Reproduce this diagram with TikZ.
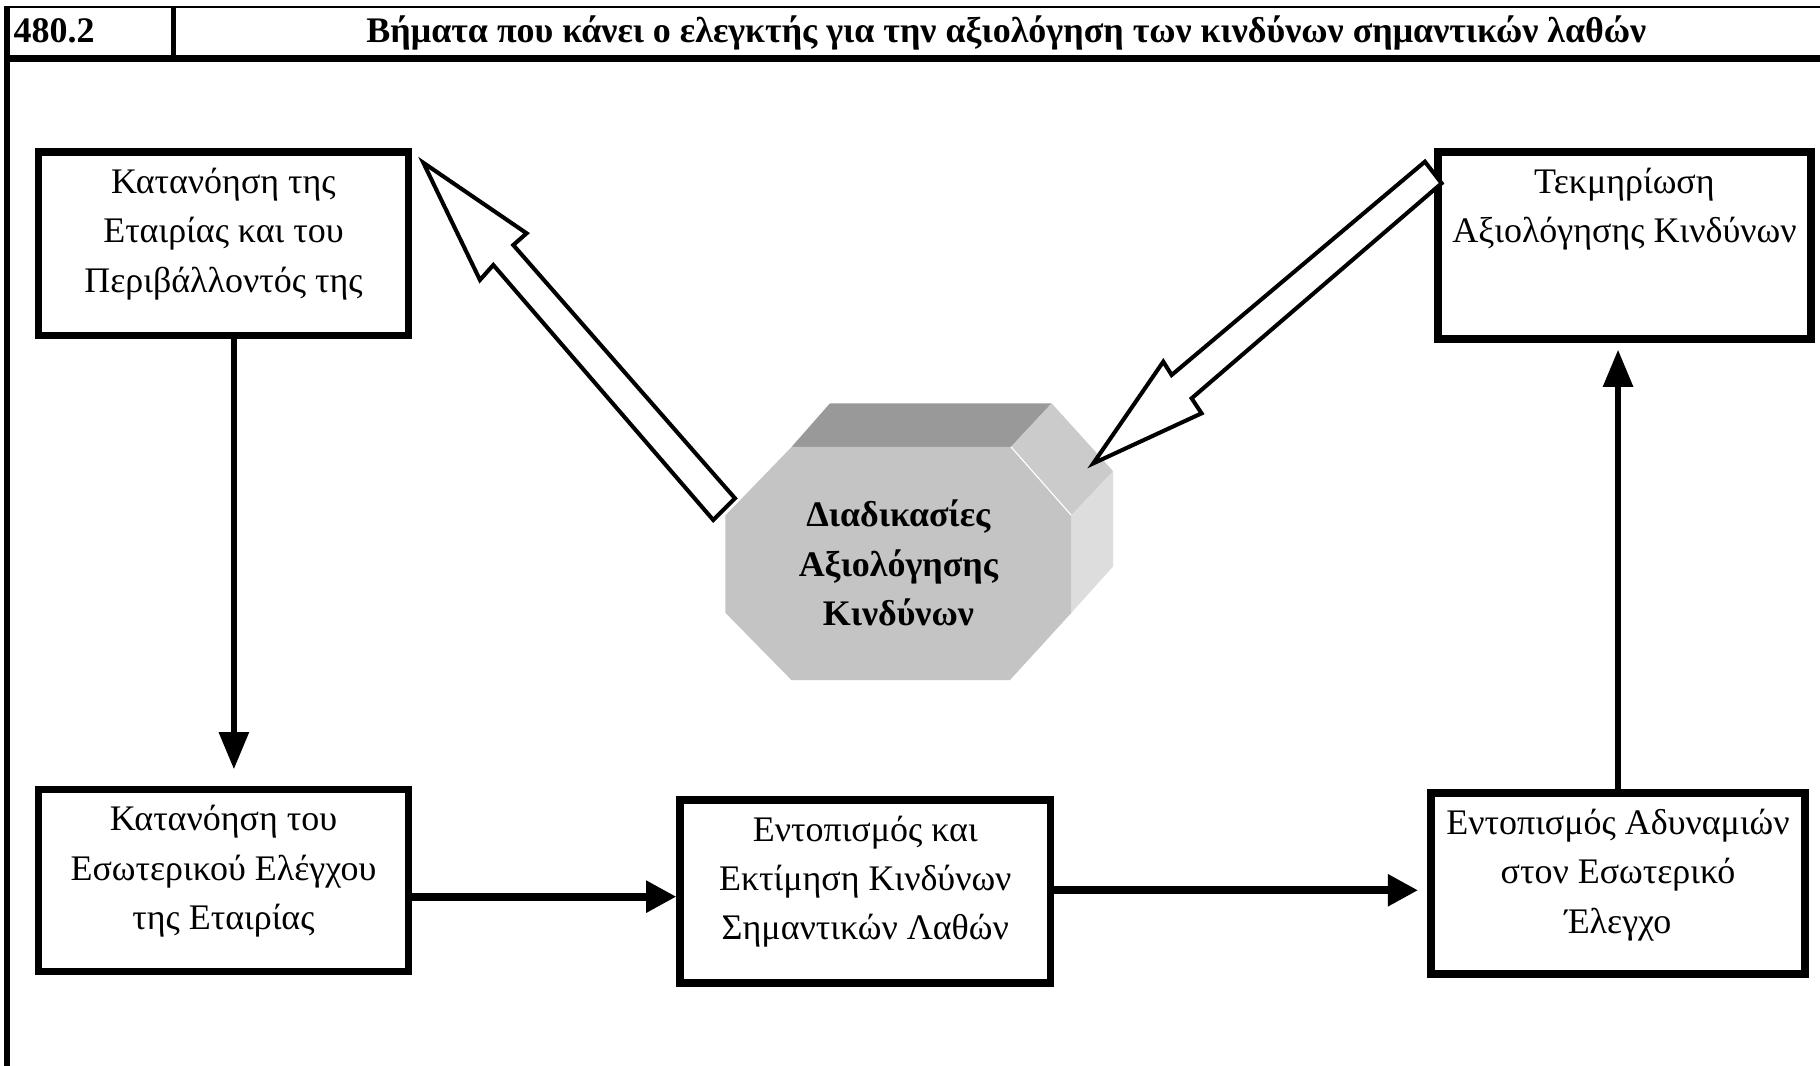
\documentclass[tikz,border=0pt]{standalone}
\usepackage{fontspec}
\setmainfont{Liberation Serif}
\usetikzlibrary{arrows.meta}
\definecolor{topc}{HTML}{999999}
\definecolor{frontc}{HTML}{C4C4C4}
\definecolor{bevc}{HTML}{CBCBCB}
\definecolor{sidec}{HTML}{DDDDDD}
\begin{document}
\begin{tikzpicture}[x=1pt,y=-1pt,
  box/.style={draw, line width=6.5pt, inner sep=0pt},
  txt/.style={font=\fontsize{31}{42.5}\selectfont, align=center, inner sep=0pt, anchor=north},
  hdr/.style={font=\fontsize{31}{36}\selectfont\bfseries, inner sep=0pt},
  conn/.style={line width=5pt, -{Triangle[length=32pt,width=25pt]}},
  hconn/.style={line width=7pt, -{Triangle[length=26pt,width=26pt]}},
  hollow/.style={draw, line width=3.5pt, fill=white, line join=miter},
  rule/.style={line cap=rect}
]
\useasboundingbox (0,0) rectangle (1568,918);
\fill[white] (0,0) rectangle (1568,918);

% header frame
\draw[rule, line width=2pt] (6,6.3) -- (1568,6.3);
\draw[line width=6pt] (3.5,50.4) -- (1568,50.4);
\draw[line width=5pt] (6,5.3) -- (6,918);
\draw[line width=4pt] (149.5,6.3) -- (149.5,50.4);
\node[hdr, anchor=base west] (num) at (11.5,36.5) {480.2};
\node[hdr, anchor=base] (title) at (867,36.5) {Βήματα που κάνει ο ελεγκτής για την αξιολόγηση των κινδύνων σημαντικών λαθών};

% boxes
\node[box, minimum width=319pt, minimum height=158pt] (b1) at (192.5,210) {};
\node[txt] (t1) at ([yshift=-17pt]b1.north) {Κατανόηση της\\Εταιρίας και του\\Περιβάλλοντός της};

\node[box, minimum width=321pt, minimum height=161pt] (b4) at (1399.5,211.5) {};
\node[txt] (t4) at ([yshift=-17pt]b4.north) {Τεκμηρίωση\\Αξιολόγησης Κινδύνων};

\node[box, minimum width=319pt, minimum height=157pt] (b5) at (192.5,758.5) {};
\node[txt] (t5) at ([yshift=-17pt]b5.north) {Κατανόηση του\\Εσωτερικού Ελέγχου\\της Εταιρίας};

\node[box, minimum width=319pt, minimum height=158pt] (b6) at (745.5,768) {};
\node[txt] (t6) at ([yshift=-17pt]b6.north) {Εντοπισμός και\\Εκτίμηση Κινδύνων\\Σημαντικών Λαθών};

\node[box, minimum width=322pt, minimum height=156pt] (b7) at (1394,761) {};
\node[txt] (t7) at ([yshift=-17pt]b7.north) {Εντοπισμός Αδυναμιών\\στον Εσωτερικό\\Έλεγχο};

% connectors
\draw[conn, shorten >=14pt] ([xshift=9pt]b1.south) -- ([xshift=9pt]b5.north);
\draw[hconn] ([yshift=-14pt]b5.east) -- ([yshift=-14pt]b5.east -| b6.west);
\draw[hconn, shorten >=8pt] ([yshift=1pt]b6.east) -- ([yshift=1pt]b6.east -| b7.west);
\draw[conn, shorten >=6pt] (b7.north) -- (b7.north |- b4.south);

% 3D octagon
\fill[topc] (682,385) -- (715,347.5) -- (906,347.5) -- (871,385) -- cycle;
\fill[bevc] (871,385) -- (906,347.5) -- (959,406) -- (923,444) -- cycle;
\fill[sidec] (923,444) -- (959,406) -- (959,488) -- (923,528) -- cycle;
\fill[frontc] (682,385) -- (871,385) -- (923,444) -- (923,528) -- (870,586) -- (682,586) -- (625,528) -- (625,444) -- cycle;
\draw[white, line width=1pt] (871,385) -- (923,444);
\node[font=\fontsize{31}{42.5}\selectfont\bfseries, align=center, inner sep=0pt] (oct) at (774,485) {Διαδικασίες\\Αξιολόγησης\\Κινδύνων};

% hollow block arrows
\draw[hollow] (364.7,140.2) -- (453.7,201.0) -- (442.2,211.1) -- (633.2,429.3) -- (614.5,448.0) -- (425.0,228.3) -- (413.5,241.2) -- cycle;
\draw[hollow] (941.9,399.2) -- (1002.2,311.6) -- (1009.4,323.1) -- (1227.6,139.3) -- (1242.0,157.9) -- (1026.6,343.2) -- (1035.2,356.1) -- cycle;
\end{tikzpicture}
\end{document}
